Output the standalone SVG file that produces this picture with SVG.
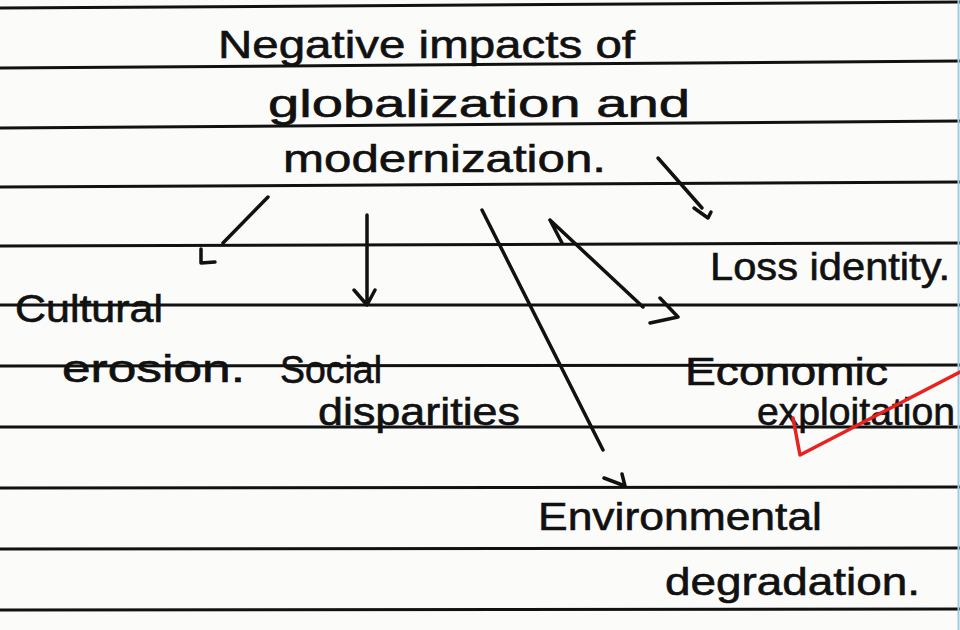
<svg xmlns="http://www.w3.org/2000/svg" width="960" height="630" viewBox="0 0 960 630">
<style>
.ruled{stroke:#111;stroke-width:3;fill:none}
.hand{font-family:"Liberation Sans","DejaVu Sans",sans-serif;font-size:38px;fill:#111;stroke:#111;stroke-width:0.6}
.pen{stroke:#111;stroke-width:3.5;fill:none;stroke-linecap:round;stroke-linejoin:round}
.red{stroke:#e8231f;stroke-width:3.5;fill:none;stroke-linecap:round;stroke-linejoin:round}
</style>
<rect width="960" height="630" fill="#fbfbfa"/>
<g id="paper-lines">
<line class="ruled" x1="0" y1="8" x2="960" y2="2"/>
<line class="ruled" x1="0" y1="68" x2="960" y2="61"/>
<line class="ruled" x1="0" y1="128" x2="960" y2="121"/>
<line class="ruled" x1="0" y1="187" x2="960" y2="182"/>
<line class="ruled" x1="0" y1="246" x2="960" y2="243"/>
<line class="ruled" x1="0" y1="305" x2="960" y2="305"/>
<line class="ruled" x1="0" y1="366" x2="960" y2="365"/>
<line class="ruled" x1="0" y1="427" x2="960" y2="427"/>
<line class="ruled" x1="0" y1="488" x2="960" y2="487"/>
<line class="ruled" x1="0" y1="549" x2="960" y2="548"/>
<line class="ruled" x1="0" y1="610" x2="960" y2="609"/>
<line x1="958.5" y1="0" x2="958.5" y2="630" stroke="#9ecbe6" stroke-width="2"/>
</g>
<g id="connectors">
<path class="pen" d="M268,197 L223,243 M201,249 L201,263 L215,262"/>
<path class="pen" d="M367,215 L367,304 M354,290 L367,305 L375,290"/>
<path class="pen" d="M658,158 L702,208 M694,208 L708,218 L711,212"/>
<path class="pen" d="M550,220 L643,307 M550,220 L562,243 M660,298 L678,317 L650,323"/>
<path class="pen" d="M482,210 L603,450 M604,478 L625,486 M622,474 L625,486"/>
</g>
<g id="title">
<text class="hand" x="218" y="58" textLength="417" lengthAdjust="spacingAndGlyphs">Negative impacts of</text>
<text class="hand" x="268" y="117" textLength="422" lengthAdjust="spacingAndGlyphs">globalization and</text>
<text class="hand" x="283" y="172" textLength="323" lengthAdjust="spacingAndGlyphs">modernization.</text>
</g>
<g id="cultural-erosion">
<text class="hand" x="15" y="322" textLength="148" lengthAdjust="spacingAndGlyphs">Cultural</text>
<text class="hand" x="62" y="382" textLength="183" lengthAdjust="spacingAndGlyphs">erosion.</text>
</g>
<g id="social-disparities">
<text class="hand" x="280" y="383" textLength="102" lengthAdjust="spacingAndGlyphs">Social</text>
<text class="hand" x="318" y="425" textLength="202" lengthAdjust="spacingAndGlyphs">disparities</text>
</g>
<g id="loss-identity">
<text class="hand" x="710" y="280" textLength="240" lengthAdjust="spacingAndGlyphs">Loss identity.</text>
</g>
<g id="economic-exploitation">
<text class="hand" x="685" y="385" textLength="203" lengthAdjust="spacingAndGlyphs">Economic</text>
<text class="hand" x="757" y="425" textLength="198" lengthAdjust="spacingAndGlyphs">exploitation</text>
</g>
<g id="environmental-degradation">
<text class="hand" x="538" y="530" textLength="284" lengthAdjust="spacingAndGlyphs">Environmental</text>
<text class="hand" x="665" y="595" textLength="255" lengthAdjust="spacingAndGlyphs">degradation.</text>
</g>
<g id="red-mark">
<path class="red" d="M793,418 L800,455 L960,372"/>
</g>
</svg>
